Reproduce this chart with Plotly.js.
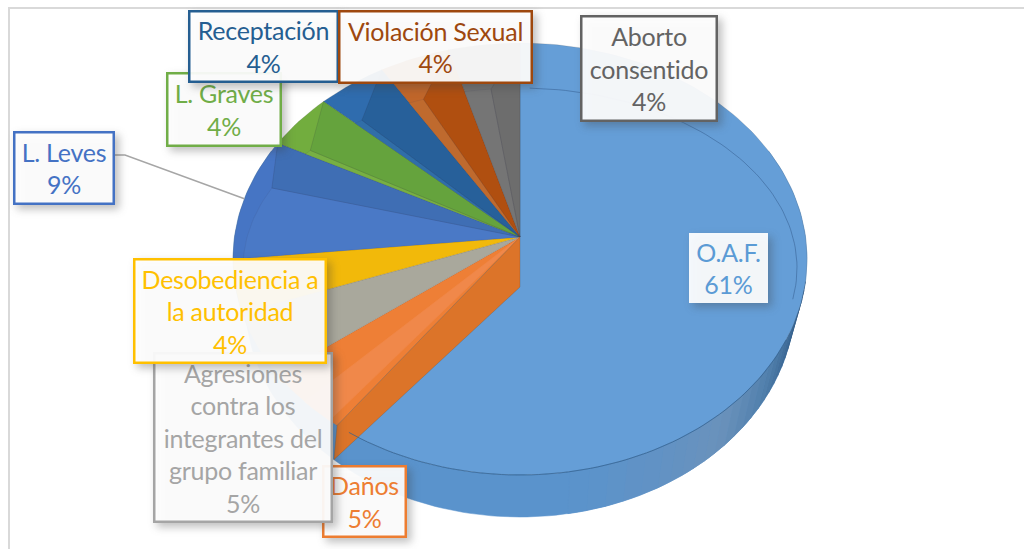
<!DOCTYPE html>
<html>
<head>
<meta charset="utf-8">
<script src="https://cdn.plot.ly/plotly-3.0.1.min.js"></script>
<style>
html,body{margin:0;padding:0;background:#fff;overflow:hidden}
#chart{width:1024px;height:549px}
.annotation rect{filter:drop-shadow(4px 4px 4px rgba(60,60,60,.35))}
.annotation text{letter-spacing:-.25px}
</style>
</head>
<body>
<div id="chart"></div>
<script>
// ---- data ----
const categories = ["O.A.F.","Daños","Agresiones contra los integrantes del grupo familiar","Desobediencia a la autoridad","L. Leves","L. Graves","Receptación","Violación Sexual","Aborto consentido"];
const values = [61,5,5,4,9,4,4,4,4];
const labelLines = ["O.A.F.","Daños","Agresiones<br>contra los<br>integrantes del<br>grupo familiar","Desobediencia a<br>la autoridad","L. Leves","L. Graves","Receptación","Violación Sexual","Aborto<br>consentido"];

// ---- styles ----
const topColor   = ["#659ed7","#ee7f36","#a9a89c","#f2b90a","#4675c4","#72ad3e","#2f6cae","#c0662a","#737373"];
const lightColor = [null,null,null,null,"#4a79c6","#77b043","#306ea8","#bf6a2e","#757575"];
const darkColor  = [null,null,null,null,"#3f6eb4","#65a33d","#27609a","#b04f10","#6d6d6d"];
const textColor  = ["#5b9bd5","#ed7d31","#a5a5a5","#ffc000","#4472c4","#70ad47","#255e91","#9e480e","#636363"];
// label box edges [left, right, top, bottom], in paint order
const boxes = {
  0:[689,768,233,303], 5:[166,282,72,147], 4:[13,115,131,205], 6:[188,339,10,83],
  7:[338,533,10,84], 8:[580,718,15,122], 1:[322,407,465,538], 2:[153,333,352,523], 3:[133,327,258,364]
};
const boxOrder = [5,4,6,7,8,0,1,2,3];
// shading of the side wall: [angle, r, g, b]
const sideStops = [[96,42,82,124],[108,60,104,148],[120,82,128,172],[135,106,146,187],[150,98,146,196],[170,90,147,204]];

// ---- projection of the tilted pie ----
const apex = [520,237];
const innE = [520,268,277,180];
const rim  = a => ell(a,520,259,287,216);
const inn  = a => ell(a,...innE);
const low  = a => ell(a,520,300,275,217);
function ell(a,cx,cy,rx,ry){const r=a*Math.PI/180;return [cx+rx*Math.sin(r),cy-ry*Math.cos(r)];}
function arc(f,a0,a1){const n=Math.max(2,Math.ceil(Math.abs(a1-a0)/1.5));const p=[];for(let i=0;i<=n;i++)p.push(f(a0+(a1-a0)*i/n));return p;}
function lerp(p,q,t){return [p[0]+(q[0]-p[0])*t,p[1]+(q[1]-p[1])*t];}
// where the ray of angle a leaves the inner ellipse, as an angle on that ellipse
function innerAngle(a){
  const q=rim(a);let t=0;
  for(;t<1;t+=0.005){const p=lerp(apex,q,t);
    if(((p[0]-innE[0])/innE[2])**2+((p[1]-innE[1])/innE[3])**2>=1)break;}
  const p=lerp(apex,q,t);
  let d=Math.atan2((p[0]-innE[0])/innE[2],-(p[1]-innE[1])/innE[3])*180/Math.PI;
  return d<0?d+360:d;
}

const traces=[];
function poly(name,pts,fill,lineCol,lineW){
  traces.push({type:"scatter",mode:"lines",name:name,x:pts.map(p=>p[0]).concat(pts[0][0]),y:pts.map(p=>p[1]).concat(pts[0][1]),
    fill:"toself",fillcolor:fill,line:{color:lineCol||fill,width:lineW===undefined?0.5:lineW},hoverinfo:"skip",showlegend:false});
}
function stroke(name,pts,col,w){
  traces.push({type:"scatter",mode:"lines",name:name,x:pts.map(p=>p[0]),y:pts.map(p=>p[1]),line:{color:col,width:w},hoverinfo:"skip",showlegend:false});
}

const total = values.reduce((s,v)=>s+v,0);
const starts=[];let cum=0;
values.forEach(v=>{starts.push(cum/total*360);cum+=v;});
const ends = starts.map((s,i)=>s+values[i]/total*360);

// side of the pie, under the top face
poly("lado",arc(low,60,300).concat(arc(rim,300,60)),"#5a93cc");
for(let s=0;s<sideStops.length-1;s++){
  const A=sideStops[s],B=sideStops[s+1],steps=5;
  for(let k=0;k<steps;k++){
    const a0=A[0]+(B[0]-A[0])*k/steps,a1=A[0]+(B[0]-A[0])*(k+1)/steps,f=(k+.5)/steps;
    const c="rgb("+[1,2,3].map(j=>Math.round(A[j]+(B[j]-A[j])*f)).join(",")+")";
    poly("lado",arc(low,a0,a1).concat(arc(rim,a1,a0)),c);
  }
}

// top face: one sector per value
values.forEach((v,i)=>{
  const a0=starts[i],a1=ends[i];
  poly(categories[i],[apex].concat(arc(rim,a0,a1)),topColor[i],"rgba(70,70,70,.25)",0.6);
});
values.forEach((v,i)=>{
  if(!lightColor[i])return;
  const a0=starts[i],a1=ends[i],c=a1-6;
  const s=Math.min(innerAngle(a0),c-1);
  poly(categories[i]+" faceta",[apex].concat(arc(inn,s,c)),lightColor[i],"rgba(70,70,90,.18)",0.6);
  poly(categories[i]+" banda",[apex,inn(c),rim(a1)],darkColor[i],"rgba(40,40,60,.25)",0.6);
});
// light strip and cut wall of the large sector
const cut=ends[0];
poly("Daños faceta",[apex,rim(cut+2),rim(cut+9)],"#f0884a");
poly("pared",[apex,[apex[0],apex[1]+50],low(cut+3),rim(cut)],"#dc7429","rgba(90,70,50,.3)",0.8);
// faint rim lines of the large sector
stroke("arista interior",arc(inn,2,100),"rgba(50,90,140,.5)",1);
stroke("arista exterior",arc(rim,112,cut-3),"rgba(45,95,145,.7)",1);
// leader of L. Leves, aimed at the middle of its sector
const lb=boxes[4];
stroke("guía",[[lb[1],lb[2]+24],[lb[1]+10,lb[2]+24],rim((starts[4]+ends[4])/2)],"#a6a6a6",1.5);

const annotations = boxOrder.map(i=>{
  const b=boxes[i],bw=(i===0?0:2.5);
  return {xref:"x",yref:"y",x:(b[0]+b[1])/2,y:(b[2]+b[3])/2,xanchor:"center",yanchor:"middle",
    text:labelLines[i]+"<br>"+values[i]+"%",showarrow:false,align:"center",valign:"middle",
    width:b[1]-b[0]-2*bw,height:b[3]-b[2]-2*bw,borderpad:0,borderwidth:bw,
    bordercolor:i===0?"rgba(0,0,0,0)":textColor[i],bgcolor:"rgba(255,255,255,.93)",
    font:{family:"Lato, sans-serif",size:25,color:textColor[i]}};
});

Plotly.newPlot("chart",traces,{
  width:1024,height:549,margin:{l:0,r:0,t:0,b:0},showlegend:false,
  paper_bgcolor:"#fff",plot_bgcolor:"#fff",
  xaxis:{range:[0,1024],visible:false,fixedrange:true},
  yaxis:{range:[549,0],visible:false,fixedrange:true},
  shapes:[{type:"rect",xref:"x",yref:"y",x0:9,x1:1030,y0:8,y1:560,line:{color:"#d9d9d9",width:2},layer:"below"}],
  annotations:annotations
},{displayModeBar:false,staticPlot:true});
</script>
</body>
</html>
